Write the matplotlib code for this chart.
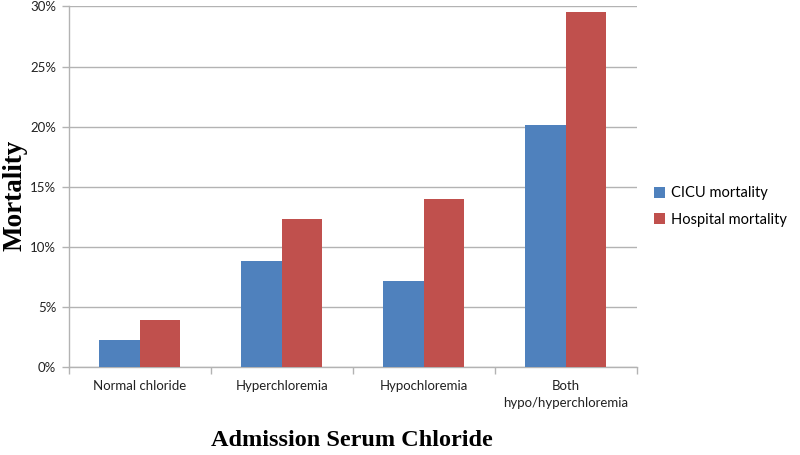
import numpy as np
import matplotlib.pyplot as plt
from matplotlib.ticker import PercentFormatter

categories = ["Normal chloride", "Hyperchloremia", "Hypochloremia", "Both\nhypo/hyperchloremia"]
cicu_mortality = [2.25, 8.85, 7.15, 20.1]
hospital_mortality = [3.95, 12.3, 14.0, 29.5]

BLUE = "#4F81BD"
RED = "#C0504D"
GRID = "#B3B3B3"
TICK_FONT = "Lato"

fig = plt.figure(figsize=(8.0, 4.55), dpi=100)
ax = fig.add_axes([0.086, 0.193, 0.71, 0.793])

x = np.arange(len(categories))
w = 0.2857
ax.bar(x - w / 2, cicu_mortality, width=w, color=BLUE, label="CICU mortality", zorder=3)
ax.bar(x + w / 2, hospital_mortality, width=w, color=RED, label="Hospital mortality", zorder=3)

ax.set_xlim(-0.5, len(categories) - 0.5)
ax.set_ylim(0, 30)
ax.set_yticks(np.arange(0, 31, 5))
ax.yaxis.set_major_formatter(PercentFormatter(decimals=0))
ax.grid(axis="y", color=GRID, linewidth=1, zorder=0)

ax.set_xticks(x)
ax.set_xticklabels(categories, fontsize=9.5, family=TICK_FONT, color="#222222", linespacing=1.5)
ax.set_xticks(np.arange(-0.5, len(categories), 1), minor=True)
ax.tick_params(axis="x", which="major", length=0, pad=9)
ax.tick_params(axis="x", which="minor", length=5, color=GRID, width=1)
ax.tick_params(axis="y", length=5, color=GRID, width=1, pad=4, labelsize=9.5, labelcolor="#222222")
for lbl in ax.get_yticklabels():
    lbl.set_family(TICK_FONT)

for side in ["top", "right"]:
    ax.spines[side].set_visible(False)
for side in ["left", "bottom"]:
    ax.spines[side].set_color(GRID)
    ax.spines[side].set_linewidth(1)

ax.set_ylabel("Mortality", fontsize=19.5, fontweight="bold", family="Liberation Serif")
ax.yaxis.set_label_coords(-0.072, 0.475)
fig.text(0.44, 0.031, "Admission Serum Chloride", fontsize=17.5, fontweight="bold",
         family="Liberation Serif", ha="center", va="center")

leg = fig.legend(loc="center left", bbox_to_anchor=(0.818, 0.546), frameon=False,
                 prop={"family": TICK_FONT, "size": 10.5}, handlelength=0.75, handleheight=0.75,
                 handletextpad=0.4, labelspacing=0.85, borderpad=0, borderaxespad=0)

fig.savefig("out.png", dpi=100)
